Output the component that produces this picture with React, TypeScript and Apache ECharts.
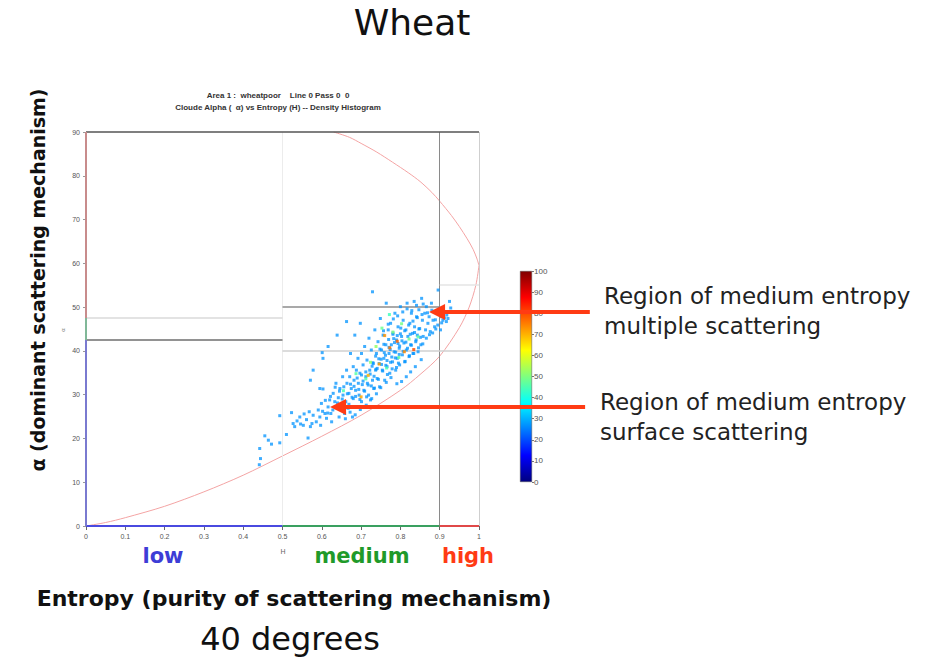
import React, { useEffect, useRef } from "react";
import * as echarts from "echarts";

// ---------- data ----------
const jetColors = ["#00007f", "#0000ff", "#007fff", "#00ffff", "#7fff7f", "#ffff00", "#ff7f00", "#ff0000", "#7f0000"];
const BASE_COUNT = 27;

// Boundary curves of the feasible H-alpha region
const curveLower: number[][] = [
  [0, 0], [0.05, 0.8], [0.1, 1.9], [0.2, 4.5], [0.3, 7.8], [0.4, 11.6], [0.5, 16], [0.6, 20.5],
  [0.7, 25.3], [0.8, 31], [0.85, 34.6], [0.9, 38.8], [0.95, 45.3], [0.975, 50], [0.992, 55], [1, 59.5],
];
const curveUpper: number[][] = [
  [0.63, 90], [0.67, 88.8], [0.7, 87.4], [0.74, 85.4], [0.78, 83.1], [0.82, 80.7], [0.85, 78.7], [0.88, 76.2],
  [0.9, 74.2], [0.93, 70.9], [0.95, 68.4], [0.97, 65.6], [0.985, 63.2], [0.995, 61.0], [1, 59.5],
];

// Zone boundaries / frame segments [x0, y0, x1, y1, colour, width]
const zoneLines: [number, number, number, number, string, number][] = [
  [0.5, 0, 0.5, 90, "#ececec", 1],
  [0.9, 0, 0.9, 90, "#8a8a8a", 1],
  [0, 42.5, 0.5, 42.5, "#6e6e6e", 1.5],
  [0, 47.5, 0.5, 47.5, "#dadada", 1.5],
  [0.5, 50, 0.9, 50, "#8c8c8c", 1.5],
  [0.5, 40, 1, 40, "#d0d0d0", 1.5],
  [0.9, 55, 1, 55, "#e4e4e4", 1.5],
  [0, 90, 1, 90, "#555555", 1.5],
  [1, 0, 1, 90, "#cfcfcf", 1],
  [0, 0, 0.5, 0, "#4a4ae0", 2],
  [0.5, 0, 0.9, 0, "#3aa060", 2],
  [0.9, 0, 1, 0, "#e04848", 2],
  [0, 0, 0, 42.5, "#7a7ad0", 2],
  [0, 42.5, 0, 47.5, "#80b898", 2],
  [0, 47.5, 0, 90, "#c88c8c", 2],
];

// Scatter cloud (H, alpha)
const cloudPoints: number[][] = [
  [0.441, 14.0], [0.444, 15.4], [0.442, 17.7], [0.455, 20.6], [0.464, 19.6], [0.472, 18.7], [0.493, 19.0], [0.493, 25.2],
  [0.510, 20.9], [0.523, 25.9], [0.527, 23.4], [0.531, 22.7], [0.537, 24.0], [0.544, 24.9], [0.546, 23.3], [0.553, 23.0],
  [0.555, 25.6], [0.561, 24.3], [0.565, 20.1], [0.568, 26.1], [0.571, 22.7], [0.578, 25.3], [0.575, 23.4], [0.586, 23.8],
  [0.591, 26.5], [0.595, 24.9], [0.597, 23.0], [0.599, 28.0], [0.603, 31.3], [0.608, 25.7], [0.612, 24.6], [0.616, 27.2],
  [0.620, 28.8], [0.623, 25.7], [0.625, 23.8], [0.629, 30.3], [0.633, 28.4], [0.636, 32.6], [0.639, 26.9], [0.642, 29.3],
  [0.644, 24.9], [0.646, 31.4], [0.650, 27.6], [0.653, 34.1], [0.654, 29.9], [0.656, 31.8], [0.658, 25.7], [0.661, 28.4],
  [0.663, 35.6], [0.664, 32.6], [0.667, 26.9], [0.669, 30.3], [0.671, 34.1], [0.673, 39.4], [0.675, 31.4], [0.678, 24.9],
  [0.680, 36.4], [0.680, 29.1], [0.682, 33.3], [0.684, 43.6], [0.686, 31.0], [0.688, 35.6], [0.690, 27.2], [0.692, 38.3],
  [0.693, 32.6], [0.695, 29.9], [0.697, 34.9], [0.698, 46.3], [0.701, 39.4], [0.701, 28.4], [0.703, 32.3], [0.705, 36.8],
  [0.707, 31.0], [0.709, 41.0], [0.712, 34.1], [0.714, 29.5], [0.715, 37.9], [0.718, 32.2], [0.720, 42.9], [0.722, 35.6],
  [0.724, 28.8], [0.726, 40.2], [0.729, 33.3], [0.731, 37.1], [0.732, 31.4], [0.735, 44.8], [0.737, 35.6], [0.739, 39.4],
  [0.741, 33.7], [0.743, 42.1], [0.746, 37.1], [0.747, 31.8], [0.749, 47.4], [0.752, 40.2], [0.754, 35.6], [0.756, 43.6],
  [0.758, 38.3], [0.760, 33.3], [0.763, 41.4], [0.764, 50.9], [0.766, 36.4], [0.769, 44.8], [0.771, 39.4], [0.773, 34.9],
  [0.775, 46.3], [0.777, 41.4], [0.780, 37.5], [0.781, 43.8], [0.784, 39.8], [0.786, 48.6], [0.788, 35.6], [0.790, 42.5],
  [0.792, 38.3], [0.794, 45.5], [0.797, 40.6], [0.798, 36.8], [0.800, 50.1], [0.803, 43.3], [0.805, 39.1], [0.807, 47.0],
  [0.809, 41.8], [0.811, 37.5], [0.814, 44.8], [0.815, 40.2], [0.817, 50.9], [0.819, 43.3], [0.822, 38.7], [0.824, 46.3],
  [0.826, 41.4], [0.828, 48.6], [0.831, 44.0], [0.832, 39.4], [0.835, 51.3], [0.836, 45.5], [0.839, 42.1], [0.841, 47.8],
  [0.843, 43.6], [0.845, 39.8], [0.847, 49.4], [0.849, 45.1], [0.852, 41.4], [0.854, 52.0], [0.856, 47.0], [0.858, 43.3],
  [0.862, 48.6], [0.864, 44.8], [0.866, 50.1], [0.870, 46.3], [0.873, 47.8], [0.876, 44.4], [0.879, 50.9], [0.883, 47.0],
  [0.887, 45.5], [0.892, 48.6], [0.896, 53.9], [0.900, 49.7], [0.904, 47.8], [0.908, 47.0], [0.913, 49.0], [0.917, 46.7],
  [0.921, 47.4], [0.925, 51.3], [0.902, 44.8], [0.729, 53.5], [0.663, 46.7], [0.639, 43.6], [0.616, 41.0], [0.601, 39.6],
  [0.578, 35.6], [0.595, 31.4], [0.571, 33.3], [0.603, 38.3],
  [0.745, 38.2], [0.752, 36.9], [0.758, 41.5], [0.762, 39.0], [0.766, 37.8], [0.770, 42.6], [0.774, 40.3], [0.778, 38.6],
  [0.781, 44.1], [0.785, 41.9], [0.788, 39.7], [0.792, 43.5], [0.795, 37.2], [0.798, 41.1], [0.801, 45.2], [0.804, 42.3],
  [0.807, 39.9], [0.811, 44.6], [0.814, 42.0], [0.818, 40.6], [0.821, 45.9], [0.825, 43.8], [0.828, 41.3], [0.832, 46.8],
  [0.836, 44.2], [0.840, 42.5], [0.843, 47.6], [0.847, 45.0], [0.851, 43.1], [0.855, 48.3],
  [0.728, 36.5], [0.733, 34.2], [0.737, 38.8], [0.741, 36.0], [0.744, 33.5], [0.748, 40.4], [0.751, 38.1], [0.755, 35.4],
  [0.759, 39.6], [0.763, 36.7], [0.767, 34.6], [0.771, 40.8], [0.775, 37.4], [0.779, 35.9], [0.783, 42.8], [0.787, 38.4],
  [0.790, 36.2], [0.794, 41.7], [0.797, 39.2], [0.800, 43.9],
  [0.705, 33.1], [0.709, 30.8], [0.712, 35.2], [0.716, 32.6], [0.719, 29.9], [0.723, 34.7], [0.726, 32.0], [0.730, 37.3],
  [0.734, 31.5], [0.738, 35.8], [0.682, 31.9], [0.686, 29.6], [0.690, 33.8], [0.694, 31.2], [0.697, 28.9], [0.701, 34.5],
  [0.665, 30.2], [0.669, 27.8], [0.673, 32.4], [0.677, 29.4], [0.652, 29.0], [0.656, 26.8], [0.645, 30.8], [0.640, 28.1],
  [0.634, 31.7], [0.628, 26.5], [0.622, 29.6], [0.615, 25.8], [0.609, 28.7], [0.602, 26.2],
  [0.757, 44.6], [0.769, 46.1], [0.782, 47.3], [0.793, 48.0], [0.806, 48.9], [0.817, 49.6], [0.829, 49.2], [0.841, 50.4],
  [0.858, 50.7], [0.869, 48.7], [0.880, 49.3], [0.889, 47.1], [0.895, 45.9], [0.905, 46.4], [0.912, 47.5], [0.918, 48.2],
  [0.928, 49.8], [0.812, 37.6], [0.823, 38.9], [0.834, 39.4], [0.846, 40.7], [0.857, 41.6], [0.866, 42.9], [0.874, 43.7],
  [0.882, 44.1], [0.890, 45.0], [0.853, 38.0], [0.838, 36.4], [0.826, 35.2], [0.815, 34.1], [0.803, 33.0], [0.791, 32.5],
  [0.776, 33.9], [0.764, 32.8], [0.750, 31.6], [0.739, 30.2], [0.727, 29.1], [0.713, 27.6], [0.698, 26.6], [0.685, 25.4],
  [0.672, 26.0], [0.660, 24.5],
];

// Denser histogram cells (H, alpha, count)
const hotCells: number[][] = [
  [0.753, 45.2, 48], [0.738, 41.0, 52], [0.712, 33.6, 46], [0.781, 44.3, 50], [0.796, 38.5, 47], [0.803, 46.2, 49],
  [0.724, 37.4, 51], [0.765, 36.1, 45], [0.822, 42.7, 48], [0.687, 34.8, 46], [0.772, 48.3, 44], [0.845, 43.2, 47],
  [0.655, 30.9, 45],
  [0.773, 40.7, 76], [0.746, 37.0, 72], [0.792, 42.2, 78], [0.810, 39.8, 74], [0.718, 34.4, 70], [0.834, 40.3, 80],
  [0.760, 43.5, 73], [0.700, 29.5, 71],
];

const arrowNotes = [
  { tip: [0.873, 48.9], tail: [1.282, 48.9], lines: ["Region of medium entropy", "multiple scattering"], tx: 604, ty: 296 },
  { tip: [0.621, 27.2], tail: [1.27, 27.2], lines: ["Region of medium entropy", "surface scattering"], tx: 600, ty: 402 },
];

const zoneLabels = [
  { text: "low", x: 163, color: "#3d3dd6" },
  { text: "medium", x: 362, color: "#1f9a2a" },
  { text: "high", x: 468, color: "#ff3b14" },
];

const ARROW = "#ff3b14";
const FONT = "DejaVu Sans";

export default function App() {
  const ref = useRef<HTMLDivElement>(null);
  useEffect(() => {
    if (!ref.current) return;
    const chart = echarts.init(ref.current, null, { renderer: "svg" });
    const stops = jetColors.map((c, i) => ({ offset: i / (jetColors.length - 1), color: c }));
    const tiny = { fontSize: 7, color: "#555", fontFamily: "Liberation Sans" };

    chart.setOption({
      animation: false,
      backgroundColor: "#ffffff",
      grid: [
        { left: 86, top: 132, width: 393, height: 394 },
        { left: 520, top: 271, width: 12, height: 211 },
      ],
      xAxis: [
        {
          type: "value", gridIndex: 0, min: 0, max: 1, interval: 0.1,
          axisLine: { show: false }, axisTick: { show: false }, splitLine: { show: false },
          axisLabel: { ...tiny, margin: 7 },
        },
        {
          type: "value", gridIndex: 0, position: "top", min: 0, max: 1, interval: 0.1,
          axisLine: { show: false }, axisTick: { show: true, inside: true, length: 4, lineStyle: { color: "#666" } },
          axisLabel: { show: false }, splitLine: { show: false },
        },
        { type: "category", gridIndex: 1, data: ["c"], show: false },
      ],
      yAxis: [
        {
          type: "value", gridIndex: 0, min: 0, max: 90, interval: 10,
          axisLine: { show: false }, axisTick: { show: true, length: 3, lineStyle: { color: "#777" } },
          splitLine: { show: false }, axisLabel: { ...tiny, margin: 6 },
        },
        {
          type: "value", gridIndex: 0, position: "right", min: 0, max: 90, interval: 10,
          axisLine: { show: false }, axisTick: { show: true, inside: true, length: 3, lineStyle: { color: "#999" } },
          splitLine: { show: false }, axisLabel: { show: false },
        },
        {
          type: "value", gridIndex: 1, position: "right", min: 0, max: 100, interval: 10,
          axisLine: { show: false }, axisTick: { show: true, length: 2, lineStyle: { color: "#777" } },
          splitLine: { show: false }, axisLabel: { fontSize: 8, color: "#555", fontFamily: "Liberation Sans", margin: 2 },
        },
      ],
      visualMap: {
        type: "continuous", show: false, min: 0, max: 100, dimension: 2, seriesIndex: [2, 3],
        inRange: { color: jetColors },
      },
      series: [
        {
          type: "line", xAxisIndex: 0, yAxisIndex: 0, data: curveLower, showSymbol: false, smooth: 0.3,
          lineStyle: { color: "#f4a4a4", width: 1 }, z: 2,
          markLine: {
            silent: true, symbol: ["none", "none"], label: { show: false }, animation: false,
            data: zoneLines.map(([x0, y0, x1, y1, color, width]) => [
              { coord: [x0, y0], lineStyle: { color, width, type: "solid" } },
              { coord: [x1, y1] },
            ]),
          },
        },
        {
          type: "line", xAxisIndex: 0, yAxisIndex: 0, data: curveUpper, showSymbol: false, smooth: 0.3,
          lineStyle: { color: "#f4a4a4", width: 1 }, z: 2,
        },
        {
          type: "scatter", xAxisIndex: 0, yAxisIndex: 0, symbol: "rect", symbolSize: 3,
          data: cloudPoints.map(([h, a]) => [h, a, BASE_COUNT]), itemStyle: { opacity: 0.75 }, z: 5,
        },
        {
          type: "scatter", xAxisIndex: 0, yAxisIndex: 0, symbol: "rect", symbolSize: 3,
          data: hotCells, itemStyle: { opacity: 0.85 }, z: 6,
        },
        {
          type: "bar", xAxisIndex: 2, yAxisIndex: 2, data: [100], barWidth: "100%",
          itemStyle: { color: new echarts.graphic.LinearGradient(0, 1, 0, 0, stops), borderColor: "#555", borderWidth: 0.5 },
        },
      ],
    });

    const px = (p: number[]) => chart.convertToPixel({ xAxisIndex: 0, yAxisIndex: 0 }, p) as number[];
    const graphics: any[] = [];
    const text = (t: string, x: number, y: number, o: any = {}) =>
      graphics.push({
        type: "text", x, y, rotation: o.rotation || 0, z: 100,
        style: {
          text: t, fill: o.fill || "#111", fontSize: o.fontSize || 12, fontWeight: o.fontWeight || "normal",
          fontFamily: o.fontFamily || FONT, textAlign: o.align || "center", textVerticalAlign: "middle",
        },
      });

    text("Wheat", 412, 22, { fontSize: 36, fill: "#111" });
    text("Area 1 :  wheatpoor    Line 0 Pass 0  0", 278, 95, { fontSize: 8, fontWeight: "bold", fontFamily: "Liberation Sans", fill: "#333" });
    text("Cloude Alpha (  α) vs Entropy (H) -- Density Histogram", 278, 107, { fontSize: 8, fontWeight: "bold", fontFamily: "Liberation Sans", fill: "#333" });
    text("α (dominant scattering mechanism)", 38, 280, { fontSize: 19, fontWeight: "bold", rotation: Math.PI / 2 });
    text("α", 63, 330, { fontSize: 6, fill: "#777", rotation: Math.PI / 2, fontFamily: "Liberation Sans" });
    text("H", 283, 551, { fontSize: 7, fill: "#666", fontFamily: "Liberation Sans" });
    zoneLabels.forEach((z) => text(z.text, z.x, 556, { fontSize: 21, fontWeight: "bold", fill: z.color }));
    text("Entropy (purity of scattering mechanism)", 294, 598, { fontSize: 22, fontWeight: "bold" });
    text("40 degrees", 290, 639, { fontSize: 32 });

    arrowNotes.forEach((n) => {
      const [tx, ty] = px(n.tip);
      const [sx] = px(n.tail);
      graphics.push({
        type: "line", z: 90, shape: { x1: sx, y1: ty, x2: tx + 12, y2: ty },
        style: { stroke: ARROW, lineWidth: 4 },
      });
      graphics.push({
        type: "polygon", z: 90, shape: { points: [[tx, ty], [tx + 16, ty - 8], [tx + 16, ty + 8]] },
        style: { fill: ARROW },
      });
      n.lines.forEach((l, i) => text(l, n.tx, n.ty + i * 30, { fontSize: 23, align: "left", fill: "#222" }));
    });

    chart.setOption({ graphic: graphics });
    return () => chart.dispose();
  }, []);

  return <div ref={ref} style={{ position: "fixed", left: 0, top: 0, width: 948, height: 663, background: "#fff" }} />;
}
